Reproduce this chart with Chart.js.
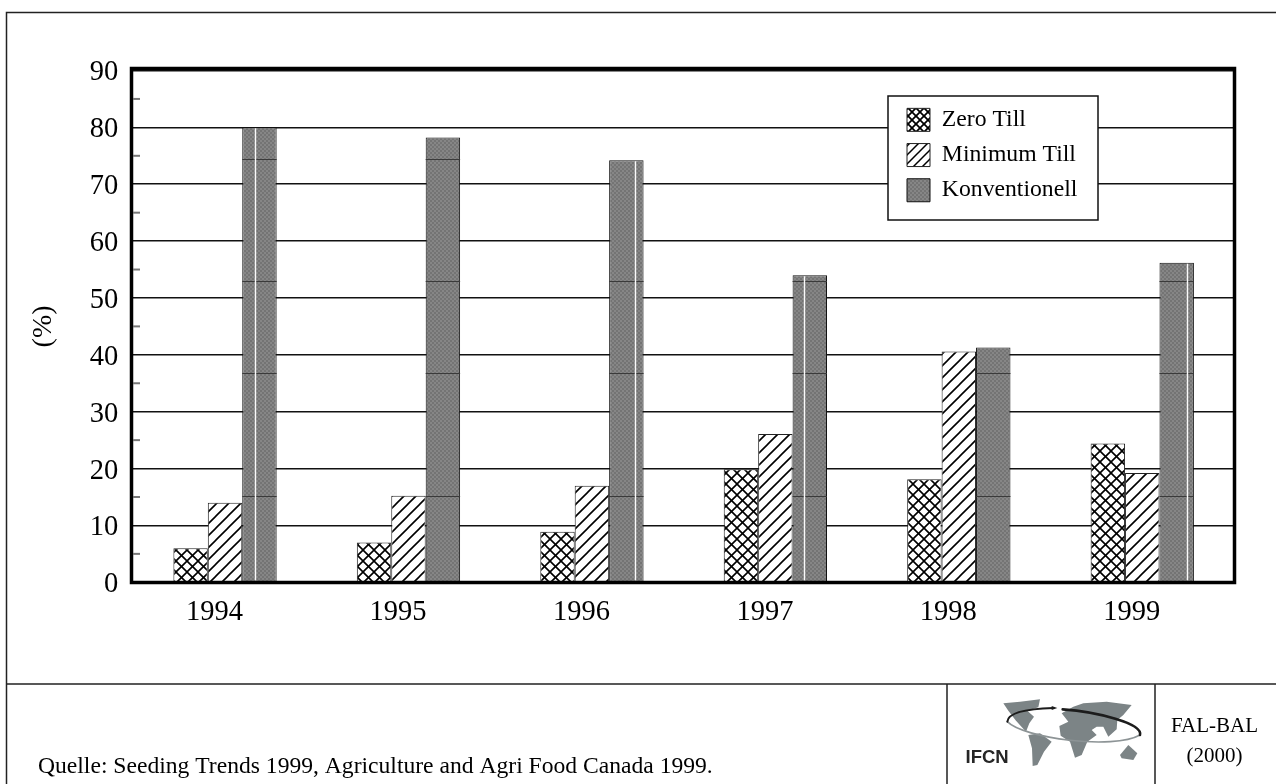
<!DOCTYPE html>
<html><head><meta charset="utf-8">
<style>html,body{margin:0;padding:0;background:#fff}canvas{display:block}</style>
<script src="https://cdn.jsdelivr.net/npm/chart.js@4/dist/chart.umd.min.js"></script>
</head><body><canvas id="c" width="1276" height="784"></canvas>
<script>
const years = ['1994','1995','1996','1997','1998','1999'];
const zeroTill = [6, 7, 8.9, 19.9, 18.1, 24.4];
const minimumTill = [14, 15.2, 17, 26.1, 40.6, 19.2];
const konventionell = [80, 78.2, 74.2, 54, 41.3, 56.2];
const seriesNames = ['Zero Till', 'Minimum Till', 'Konventionell'];
const bandLevels = [74.5, 52.9, 36.75, 15.2];
const seamOffsets = [13, null, 25.4, 11.4, null, 28];
const SERIF = '"Liberation Serif", "Times New Roman", serif';

function tile(size, paint) {
  const t = document.createElement('canvas');
  t.width = t.height = size;
  paint(t.getContext('2d'), size);
  return t.getContext('2d').createPattern(t, 'repeat');
}
function rising(g, s) {
  g.beginPath();
  g.moveTo(-1, s + 1); g.lineTo(s + 1, -1);
  g.moveTo(-1, 1); g.lineTo(1, -1);
  g.moveTo(s - 1, s + 1); g.lineTo(s + 1, s - 1);
  g.stroke();
}
function crossTile(size, w) {
  return tile(size, (g, s) => {
    g.fillStyle = '#fff'; g.fillRect(0, 0, s, s);
    g.strokeStyle = '#000'; g.lineWidth = w;
    rising(g, s);
    g.translate(s, 0); g.scale(-1, 1);
    rising(g, s);
  });
}
function hatchTile(size, w) {
  return tile(size, (g, s) => {
    g.fillStyle = '#fff'; g.fillRect(0, 0, s, s);
    g.strokeStyle = '#000'; g.lineWidth = w;
    rising(g, s);
  });
}
const crossFill = crossTile(11, 1.6);
const hatchFill = hatchTile(12, 1.6);
const greyFill = tile(4, (g, s) => {
  g.fillStyle = '#747474'; g.fillRect(0, 0, s, s);
  g.fillStyle = '#868686'; g.fillRect(0, 0, 2, 2); g.fillRect(2, 2, 2, 2);
});
const legendFills = [crossTile(8, 1.7), hatchTile(9, 1.5), greyFill];

const barTexture = {
  id: 'barTexture',
  afterDatasetsDraw(chart) {
    const ctx = chart.ctx, y = chart.scales.y;
    const meta = chart.getDatasetMeta(2);
    meta.data.forEach((bar, i) => {
      const p = bar.getProps(['x', 'y', 'width', 'base'], true);
      const l = p.x - p.width / 2, r = p.x + p.width / 2;
      ctx.save();
      ctx.strokeStyle = '#3a3a3a'; ctx.lineWidth = 1;
      bandLevels.forEach(v => {
        if (v < konventionell[i]) {
          const py = Math.round(y.getPixelForValue(v)) + 0.5;
          ctx.beginPath(); ctx.moveTo(l, py); ctx.lineTo(r, py); ctx.stroke();
        }
      });
      if (seamOffsets[i] !== null) {
        ctx.strokeStyle = '#fafafa'; ctx.lineWidth = 1.4;
        const px = Math.round(l + seamOffsets[i]) + 0.5;
        ctx.beginPath(); ctx.moveTo(px, p.y + 1); ctx.lineTo(px, p.base - 1); ctx.stroke();
      }
      ctx.restore();
    });
  }
};

const legendPlace = {
  id: 'legendPlace',
  beforeLayout(chart) {
    const lg = chart.legend;
    if (lg && !lg._boxed) {
      lg._boxed = true;
      const base = lg.draw;
      lg.draw = function () {
        const c = chart.ctx;
        c.save();
        c.fillStyle = '#fff'; c.fillRect(888, 96, 210, 124);
        c.strokeStyle = '#111'; c.lineWidth = 1.5; c.strokeRect(888, 96, 210, 124);
        c.restore();
        base.apply(this, arguments);
      };
    }
  },
  afterLayout(chart) {
    const lg = chart.legend;
    lg.left = 895.5; lg.top = 96.5; lg.right = 1095; lg.bottom = 480;
    lg.adjustHitBoxes();
  }
};

function poly(c, pts) {
  c.beginPath();
  pts.forEach((p, i) => {
    const x = 940 + p[0] / 3, y = 670 + p[1] / 3;
    i ? c.lineTo(x, y) : c.moveTo(x, y);
  });
  c.closePath(); c.fill();
}
const page = {
  id: 'page',
  afterDraw(chart) {
    const c = chart.ctx;
    c.save();
    c.strokeStyle = '#000'; c.lineWidth = 3.5;
    c.strokeRect(131.5, 68.5, 1234.5 - 131.5, 582.5 - 68.5);
    const y = chart.scales.y;
    c.strokeStyle = '#777'; c.lineWidth = 2;
    y.ticks.forEach(t => {
      if (t.value % 10 !== 0) {
        const py = y.getPixelForValue(t.value);
        c.beginPath(); c.moveTo(133, py); c.lineTo(140, py); c.stroke();
      }
    });
    c.strokeStyle = '#222'; c.lineWidth = 1.5;
    c.beginPath();
    c.moveTo(1276, 12.5); c.lineTo(6.5, 12.5); c.lineTo(6.5, 784);
    c.moveTo(6.5, 684); c.lineTo(1276, 684);
    c.moveTo(947, 684); c.lineTo(947, 784);
    c.moveTo(1155, 684); c.lineTo(1155, 784);
    c.stroke();
    c.fillStyle = '#000'; c.textBaseline = 'alphabetic';
    c.font = '23.6px ' + SERIF; c.textAlign = 'left';
    c.fillText('Quelle: Seeding Trends 1999, Agriculture and Agri Food Canada 1999.', 38, 773);
    c.font = '21px ' + SERIF; c.textAlign = 'center';
    c.fillText('FAL-BAL', 1214.5, 731.5);
    c.fillText('(2000)', 1214.5, 761.5);
    c.fillStyle = '#262626'; c.font = 'bold 18.5px "Liberation Sans", Arial, sans-serif'; c.textAlign = 'left';
    c.fillText('IFCN', 965.5, 763);
    c.fillStyle = '#7c8486';
    poly(c, [[190,100],[240,95],[300,88],[295,112],[262,122],[282,140],[268,160],[258,185],[228,152],[205,122]]);
    poly(c, [[265,195],[300,190],[335,215],[312,245],[292,285],[278,288],[276,235]]);
    poly(c, [[365,130],[400,110],[430,100],[500,95],[575,105],[550,135],[532,150],[530,178],[505,200],[490,170],[470,170],[455,180],[470,195],[442,215],[425,255],[405,263],[390,215],[362,197],[358,168],[385,155]]);
    poly(c, [[540,255],[565,225],[592,250],[580,270],[545,265]]);
    const lx = v => 940 + v / 3, ly = v => 670 + v / 3;
    c.lineCap = 'round';
    c.strokeStyle = '#8d9496'; c.lineWidth = 1.6;
    c.beginPath(); c.moveTo(lx(202), ly(155));
    c.bezierCurveTo(lx(250), ly(205), lx(520), ly(240), lx(600), ly(195)); c.stroke();
    c.strokeStyle = '#1c1c1c'; c.lineWidth = 2;
    c.beginPath(); c.moveTo(lx(202), ly(155));
    c.quadraticCurveTo(lx(205), ly(118), lx(340), ly(114)); c.stroke();
    c.lineWidth = 2.6;
    c.beginPath(); c.moveTo(lx(368), ly(118));
    c.bezierCurveTo(lx(470), ly(125), lx(610), ly(160), lx(600), ly(195)); c.stroke();
    c.fillStyle = '#1c1c1c';
    poly(c, [[335,108],[352,114],[335,120]]);
    c.restore();
  }
};

new Chart(document.getElementById('c'), {
  type: 'bar',
  data: {
    labels: years,
    datasets: [
      { label: seriesNames[0], data: zeroTill, backgroundColor: crossFill, borderColor: '#222', borderWidth: 1 },
      { label: seriesNames[1], data: minimumTill, backgroundColor: hatchFill, borderColor: '#222', borderWidth: 1 },
      { label: seriesNames[2], data: konventionell, backgroundColor: greyFill, borderColor: '#111', borderWidth: 1 }
    ]
  },
  options: {
    responsive: false,
    animation: false,
    events: [],
    layout: { padding: { left: 0, top: 70.5, right: 42, bottom: 0 } },
    datasets: { bar: { categoryPercentage: 0.563, barPercentage: 1 } },
    plugins: {
      title: { display: false },
      tooltip: { enabled: false },
      legend: {
        display: true,
        position: 'chartArea',
        align: 'start',
        labels: {
          boxWidth: 23, boxHeight: 23, padding: 11.5,
          color: '#000', font: { family: SERIF, size: 23.7 },
          generateLabels(chart) {
            return Chart.defaults.plugins.legend.labels.generateLabels(chart).map((it, i) => {
              it.fillStyle = legendFills[i];
              return it;
            });
          }
        }
      }
    },
    scales: {
      x: {
        grid: { display: false },
        border: { display: false },
        ticks: { color: '#000', padding: 5, labelOffset: -10.5, maxRotation: 0, font: { family: SERIF, size: 28.5 } },
        afterFit(s) { s.height = 201.7; }
      },
      y: {
        min: 0, max: 90,
        afterFit(s) { s.width = 133.3; },
        grid: {
          drawTicks: false,
          lineWidth: 1.5,
          color: c => (c.tick && c.tick.value % 10 === 0) ? '#111' : 'transparent'
        },
        border: { display: false },
        ticks: {
          stepSize: 5, autoSkip: false, padding: 15, labelOffset: 2.5, color: '#000',
          font: { family: SERIF, size: 28.5 },
          callback: v => (v % 10 === 0 ? String(v) : '')
        },
        title: {
          display: true, text: '(%)', color: '#000',
          font: { family: SERIF, size: 28 },
          padding: { top: 26.7, bottom: 0 }
        }
      }
    }
  },
  plugins: [legendPlace, barTexture, page]
});
</script></body></html>
